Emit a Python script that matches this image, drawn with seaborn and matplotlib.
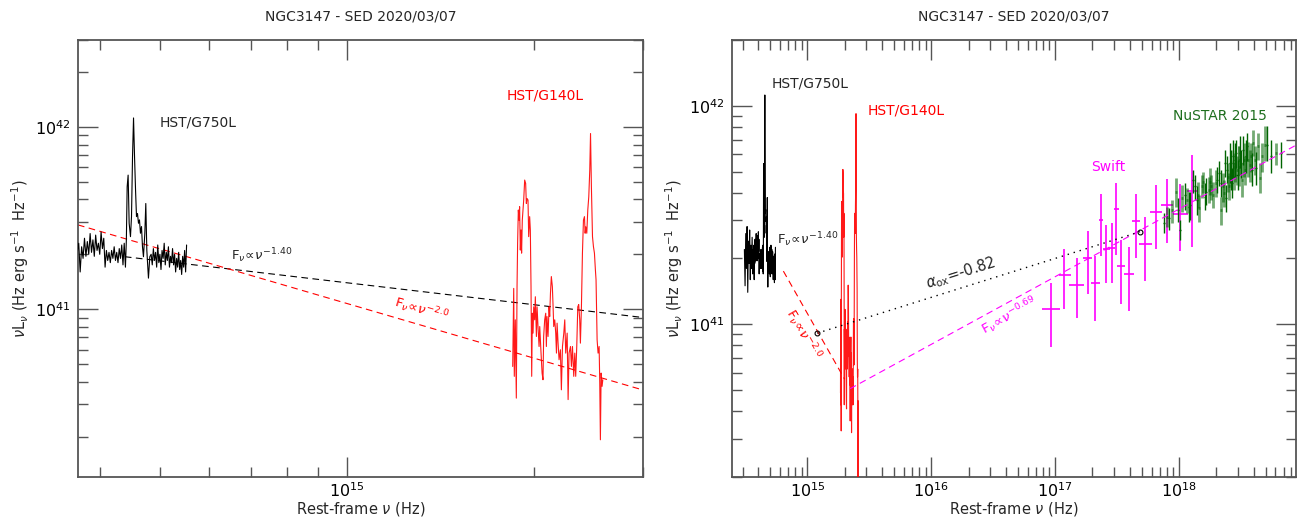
import numpy as np
import matplotlib
matplotlib.use("Agg")
import matplotlib.pyplot as plt
import seaborn as sns
from matplotlib.ticker import LogLocator, NullFormatter

# --- HST/G750L spectrum: nu in 1e14 Hz, nuLnu in 1e41 erg/s ---
g750_nu = [3.10, 3.14, 3.18, 3.22, 3.26, 3.30, 3.34, 3.38, 3.42, 3.46, 3.50, 3.54,
           3.58, 3.62, 3.66,
           3.68, 3.70, 3.72, 3.74, 3.76, 3.78, 3.80, 3.82, 3.84, 3.86, 3.88, 3.90,
           3.92, 3.94, 3.96, 3.98, 4.00, 4.02, 4.04, 4.06, 4.08, 4.10, 4.12, 4.14,
           4.16, 4.18, 4.20, 4.22, 4.24, 4.26, 4.28, 4.30, 4.32, 4.34, 4.36, 4.38,
           4.40, 4.415, 4.428, 4.444, 4.461, 4.483, 4.500, 4.517, 4.534, 4.551, 4.568,
           4.584, 4.601, 4.618, 4.635, 4.652, 4.670, 4.687, 4.704, 4.728, 4.745, 4.763,
           4.780, 4.792, 4.816, 4.84, 4.86, 4.88, 4.90, 4.92, 4.94, 4.96, 4.98, 5.00,
           5.02, 5.04, 5.06, 5.08, 5.10, 5.12, 5.14, 5.16, 5.18, 5.20, 5.22, 5.24,
           5.26, 5.28, 5.30, 5.32, 5.34, 5.36, 5.38, 5.40, 5.42, 5.44, 5.46, 5.48,
           5.50, 5.52]
g750_L = [2.20, 1.50, 2.60, 1.80, 2.80, 1.40, 2.40, 1.90, 2.70, 1.60, 2.30, 1.80,
          2.50, 1.70, 2.20,
          2.05, 2.30, 1.60, 2.20, 1.90, 2.45, 1.95, 2.35, 2.00, 2.60, 2.05, 2.40,
          1.95, 2.55, 2.10, 2.30, 2.00, 2.65, 2.15, 2.45, 1.70, 2.10, 1.85, 2.05,
          1.80, 2.10, 1.90, 2.20, 1.85, 2.05, 1.80, 2.15, 1.90, 2.25, 1.75, 2.30,
          1.70, 2.40, 4.69, 5.44, 2.96, 2.50, 3.22, 6.85, 11.2, 6.85, 4.50,
          3.22, 3.35, 2.96, 3.09, 2.61, 2.84, 2.20, 1.94, 2.61, 3.80, 2.11,
          1.71, 1.48, 1.94, 2.00, 1.75, 2.15, 1.85, 2.05, 1.70, 2.25, 1.80, 2.00,
          1.65, 2.10, 1.90, 2.30, 1.75, 2.05, 1.85, 2.20, 1.70, 1.95, 1.80, 2.15,
          1.75, 2.00, 1.60, 1.90, 1.70, 2.05, 1.65, 1.85, 1.55, 1.95, 1.70, 2.10,
          1.60, 2.25]

# --- HST/G140L spectrum: nu in 1e15 Hz, nuLnu in 1e41 erg/s ---
g140_nu = [1.850, 1.857, 1.861, 1.868, 1.875, 1.880, 1.884, 1.889, 1.894, 1.898,
           1.903, 1.908, 1.912, 1.917, 1.922, 1.927, 1.934, 1.941, 1.946, 1.951,
           1.958, 1.963, 1.970, 1.975, 1.980, 1.985, 1.990, 1.995, 2.000, 2.007,
           2.012, 2.020, 2.025, 2.032, 2.040, 2.045, 2.055, 2.063, 2.070, 2.075,
           2.083, 2.091, 2.096, 2.101, 2.109, 2.117, 2.122, 2.128, 2.135, 2.143,
           2.149, 2.154, 2.162, 2.170, 2.176, 2.181, 2.189, 2.197, 2.208, 2.216,
           2.225, 2.236, 2.244, 2.252, 2.264, 2.272, 2.280, 2.292, 2.300, 2.309,
           2.320, 2.329, 2.337, 2.346, 2.355, 2.363, 2.372, 2.378, 2.387, 2.396,
           2.405, 2.414, 2.420, 2.426, 2.435, 2.444, 2.453, 2.462, 2.469, 2.477,
           2.487, 2.496, 2.505, 2.514, 2.520, 2.530, 2.539, 2.549, 2.555, 2.561,
           2.568, 2.577, 2.584]
g140_L = [0.485, 1.30, 0.428, 0.874, 0.325, 1.33, 2.30, 3.50, 3.08, 3.65,
          2.11, 2.72, 2.03, 3.08, 3.50, 3.97, 5.11, 4.90, 3.80, 4.05,
          3.97, 2.50, 3.22, 2.72, 1.33, 0.428, 0.950, 0.739, 1.03, 0.874,
          1.17, 0.708, 1.03, 0.803, 0.624, 0.803, 0.574, 0.446, 0.410, 0.708,
          0.874, 0.950, 0.624, 0.911, 0.708, 1.03, 0.911, 1.22, 1.51, 1.33,
          1.03, 0.803, 0.874, 0.739, 0.574, 0.838, 0.651, 0.528, 0.599, 0.361,
          0.624, 0.739, 0.874, 0.574, 0.739, 0.319, 0.574, 0.624, 0.485, 0.624,
          0.428, 0.574, 0.428, 0.624, 1.03, 1.06, 0.874, 0.651, 1.03, 2.03,
          3.08, 3.22, 2.61, 2.83, 2.61, 3.50, 4.14, 5.79, 9.20, 4.69,
          2.50, 2.20, 2.03, 1.64, 1.45, 0.679, 0.574, 0.624, 0.393, 0.192,
          0.446, 0.377, 0.410]

# --- Swift points: nu in 1e17 Hz, nuLnu in 1e41 erg/s ---
swift_nu = [0.929, 1.19, 1.51, 1.84, 2.11, 2.35, 2.59, 2.87, 3.12, 3.42, 3.93, 4.53,
            5.35, 6.53, 8.00, 10.2, 12.7]
swift_nu_lo = [0.782, 1.076, 1.303, 1.690, 1.941, 2.249, 2.427, 2.698, 2.985, 3.177,
               3.597, 4.207, 4.732, 5.848, 7.112, 8.995, 11.53]
swift_nu_hi = [1.096, 1.340, 1.722, 2.000, 2.307, 2.455, 2.780, 3.048, 3.258, 3.681,
               4.335, 4.853, 6.026, 7.278, 8.892, 11.89, 13.90]
swift_L = [1.17, 1.68, 1.52, 2.02, 1.54, 3.00, 2.21, 2.23, 3.38, 1.84, 1.70, 2.98,
           2.34, 3.27, 3.51, 3.20, 4.08]
swift_L_lo = [0.787, 1.17, 1.07, 1.37, 1.04, 2.05, 1.55, 1.55, 2.07, 1.24, 1.15, 2.02,
              1.58, 2.22, 2.36, 2.16, 2.26]
swift_L_hi = [1.55, 2.20, 2.00, 2.68, 2.05, 3.94, 2.84, 2.92, 4.45, 2.43, 2.25, 3.94,
              3.09, 4.34, 4.61, 4.39, 5.96]

# --- NuSTAR 2015: nu in 1e18 Hz, nuLnu in 1e41 erg/s, module A / B ---
nustar_nu = [0.757, 0.795, 0.836, 0.878, 0.946, 0.988, 1.019, 1.057, 1.111, 1.153,
             1.227, 1.289, 1.338, 1.389, 1.459, 1.523, 1.571, 1.651, 1.735, 1.801,
             1.892, 1.988, 2.089, 2.168, 2.250, 2.336, 2.394, 2.485, 2.578, 2.643,
             2.709, 2.777, 2.847, 2.918, 3.028, 3.105, 3.222, 3.344, 3.470, 3.602,
             3.738, 3.879, 3.977, 4.178, 4.336, 4.500, 4.670, 4.908, 5.093, 5.556,
             6.058, 6.607,
             1.20, 1.42, 1.61, 1.77, 2.03, 2.20, 2.30, 2.44, 2.53, 2.61, 2.68,
             2.74, 2.81, 2.88, 2.97, 3.06, 3.16, 3.28, 3.41, 3.53, 3.81, 4.08]
nustar_L = [2.90, 3.11, 3.05, 3.33, 4.05, 3.33, 2.70, 3.77, 3.91, 3.71,
            3.52, 4.58, 4.27, 3.71, 3.39, 4.27, 4.50, 4.05, 4.12, 4.27,
            3.91, 4.42, 4.91, 3.33, 4.27, 5.46, 3.77, 4.74, 5.46, 5.09,
            5.86, 4.74, 5.65, 5.09, 5.27, 6.07, 4.58, 5.65, 5.86, 5.65,
            5.36, 5.09, 6.74, 5.18, 6.51, 4.66, 5.86, 6.62, 6.62, 5.86,
            6.07, 6.07,
            3.45, 3.91, 3.84, 4.50, 4.58, 4.42, 3.98, 5.09, 4.27, 4.91, 4.42,
            5.46, 5.27, 6.07, 4.83, 5.65, 5.46, 6.28, 5.09, 6.51, 5.86, 5.65]
nustar_L_lo = [2.61, 2.80, 2.70, 2.90, 3.45, 2.95, 2.43, 3.28, 3.33, 3.22,
               3.00, 3.98, 3.71, 3.16, 2.95, 3.77, 3.98, 3.52, 3.58, 3.71,
               3.39, 3.84, 4.27, 2.85, 3.64, 4.74, 3.28, 4.05, 4.42, 4.12,
               4.74, 4.12, 4.66, 4.34, 4.27, 5.18, 3.84, 4.74, 4.91, 4.74,
               4.50, 4.27, 5.86, 4.34, 5.65, 3.98, 5.00, 5.56, 5.56, 4.91,
               5.36, 5.18,
               2.95, 3.39, 3.33, 3.91, 3.98, 3.84, 3.45, 4.42, 3.71, 4.27, 3.77,
               4.66, 4.50, 5.18, 4.12, 4.83, 4.66, 5.36, 4.34, 5.56, 5.00, 4.83]
nustar_L_hi = [3.22, 3.45, 3.39, 3.71, 4.66, 3.77, 3.00, 4.34, 4.42, 4.19,
               4.05, 5.09, 4.83, 4.27, 3.91, 4.83, 5.00, 4.66, 4.74, 4.83,
               4.50, 5.09, 5.56, 3.84, 4.91, 6.28, 4.34, 5.46, 6.74, 6.28,
               6.98, 5.46, 6.74, 5.86, 6.51, 7.24, 5.46, 6.74, 6.98, 6.86,
               6.28, 6.07, 7.76, 6.17, 7.49, 5.46, 6.74, 8.04, 8.04, 6.98,
               6.74, 6.86,
               4.05, 4.50, 4.42, 5.18, 5.27, 5.09, 4.58, 5.86, 4.91, 5.65, 5.18,
               6.28, 6.07, 6.98, 5.65, 6.51, 6.28, 7.24, 5.86, 7.49, 6.74, 6.51]
nustar_mod = ['A', 'B', 'A', 'B', 'B', 'A', 'A', 'B', 'A', 'B',
              'A', 'A', 'A', 'A', 'B', 'B', 'B', 'A', 'B', 'B',
              'B', 'B', 'A', 'B', 'B', 'A', 'A', 'B', 'A', 'A',
              'A', 'B', 'A', 'B', 'B', 'A', 'B', 'B', 'A', 'B',
              'B', 'A', 'B', 'A', 'B', 'B', 'B', 'B', 'A', 'A',
              'B', 'A',
              'A', 'B', 'A', 'B', 'A', 'A', 'B', 'A', 'B', 'A', 'A',
              'A', 'B', 'A', 'A', 'B', 'A', 'A', 'B', 'A', 'B', 'B']
nustar_dnu = 0.02  # fractional half bin width

# --- power laws (endpoints, Hz and erg/s) ---
pl140_left_nu = [4.39e14, 3.0e15]
pl140_left_L = [1.94e41, 9.0e40]
pl20_left_nu = [3.69e14, 3.0e15]
pl20_left_L = [2.9e41, 3.6e40]
pl20_right_nu = [6.4e14, 2.0e15]
pl20_right_L = [1.75e41, 5.6e40]
pl069_nu = [2.21e15, 8.8e18]
pl069_L = [5.07e40, 6.6e41]
aox_nu = [1.20e15, 4.84e17]
aox_L = [9.1e40, 2.65e41]

RED = '#ff0000'
MAG = '#ff00ff'
GREEN = '#006400'
FRAME = '#555555'

sns.set_style('ticks')
plt.rcParams['font.family'] = ['DejaVu Sans']
plt.rcParams['mathtext.fontset'] = 'dejavusans'

g750_x = np.array(g750_nu) * 1e14
g750_y = np.array(g750_L) * 1e41
g140_x = np.array(g140_nu) * 1e15
g140_y = np.array(g140_L) * 1e41

fig = plt.figure(figsize=(13.02, 5.17), dpi=100)
ax1 = fig.add_axes([0.0599, 0.0774, 0.4340, 0.8453])
ax2 = fig.add_axes([0.5620, 0.0774, 0.4334, 0.8453])


def style_axes(ax, xlim, ylim):
    ax.set_xscale('log')
    ax.set_yscale('log')
    ax.set_xlim(*xlim)
    ax.set_ylim(*ylim)
    for a in (ax.xaxis, ax.yaxis):
        a.set_major_locator(LogLocator(base=10, numticks=30))
        a.set_minor_locator(LogLocator(base=10, subs=np.arange(2, 10), numticks=30))
        a.set_minor_formatter(NullFormatter())
    ax.tick_params(which='both', direction='in', top=True, right=True,
                   color=FRAME, labelsize=11.5, labelcolor='black')
    ax.tick_params(which='major', length=14.5, width=1.0)
    ax.tick_params(which='minor', length=7.5, width=1.0)
    ax.tick_params(axis='y', which='major', pad=5)
    ax.tick_params(axis='x', which='major', pad=3)
    for s in ax.spines.values():
        s.set_color(FRAME)
        s.set_linewidth(1.3)
    ax.set_title('NGC3147 - SED 2020/03/07', fontsize=10, pad=14)
    ax.set_xlabel(r'Rest-frame $\nu$ (Hz)', fontsize=10.5, labelpad=0)
    ax.set_ylabel(r'$\nu\mathrm{L}_\nu$ (Hz erg s$^{-1}$  Hz$^{-1}$)', fontsize=10.5,
                  labelpad=3)


def spectrum(ax, x, y, color, alpha=1.0):
    sns.lineplot(x=x, y=y, ax=ax, color=color, lw=0.8, alpha=alpha,
                 estimator=None, sort=False, zorder=3)


# ---------------- left panel ----------------
ax = ax1
ax.plot(pl140_left_nu, pl140_left_L, color='black', lw=0.8, dashes=(6, 4), zorder=2)
ax.plot(pl20_left_nu, pl20_left_L, color=RED, lw=0.8, dashes=(6, 4), zorder=2)
spectrum(ax, g750_x, g750_y, 'black')
spectrum(ax, g140_x, g140_y, RED, alpha=0.9)
style_axes(ax, (3.69e14, 3.0e15), (1.2e40, 3.0e42))
ax.text(5.0e14, 1.06e42, 'HST/G750L', fontsize=10, ha='left', va='center')
ax.text(1.81e15, 1.48e42, 'HST/G140L', fontsize=10, color=RED, ha='left', va='center')
ax.text(6.5e14, 1.96e41, r'$\mathrm{F}_\nu\!\propto\!\nu^{-1.40}$', fontsize=9.5,
        ha='left', va='center')
ax.text(1.32e15, 9.9e40, r'$\mathrm{F}_\nu\!\propto\!\nu^{-2.0}$', fontsize=9.5,
        color=RED, ha='center', va='center', rotation=-16.4, rotation_mode='anchor')

# ---------------- right panel ----------------
ax = ax2
spectrum(ax, g750_x, g750_y, 'black')
spectrum(ax, g140_x, g140_y, RED, alpha=0.9)

sx = np.array(swift_nu) * 1e17
sy = np.array(swift_L) * 1e41
sxerr = [sx - np.array(swift_nu_lo) * 1e17, np.array(swift_nu_hi) * 1e17 - sx]
syerr = [sy - np.array(swift_L_lo) * 1e41, np.array(swift_L_hi) * 1e41 - sy]
ax.errorbar(sx, sy, xerr=sxerr, yerr=syerr, fmt='none', ecolor=MAG,
            elinewidth=1.2, capsize=0, zorder=3)

nx = np.array(nustar_nu) * 1e18
ny = np.array(nustar_L) * 1e41
nlo = np.array(nustar_L_lo) * 1e41
nhi = np.array(nustar_L_hi) * 1e41
mod = np.array(nustar_mod)
for m, alpha, lw in (('B', 0.55, 2.0), ('A', 1.0, 1.0)):
    k = mod == m
    ax.errorbar(nx[k], ny[k], xerr=nx[k] * nustar_dnu,
                yerr=[ny[k] - nlo[k], nhi[k] - ny[k]], fmt='none',
                ecolor=GREEN, alpha=alpha, elinewidth=lw, capsize=0, zorder=4)

ax.plot(pl20_right_nu, pl20_right_L, color=RED, lw=0.8, dashes=(6, 4), zorder=5)
ax.plot(pl069_nu, pl069_L, color=MAG, lw=0.8, dashes=(6, 4), zorder=5)
ax.plot(aox_nu, aox_L, color='black', lw=1.0, dashes=(1, 3.5), zorder=5)
ax.plot(aox_nu, aox_L, ls='none', marker='o', ms=3.5, mfc='none', mec='black',
        mew=0.8, zorder=6)

style_axes(ax, (2.45e14, 8.8e18), (2.0e40, 2.0e42))
ax.text(5.17e14, 1.27e42, 'HST/G750L', fontsize=10, ha='left', va='center')
ax.text(3.07e15, 9.5e41, 'HST/G140L', fontsize=10, color=RED, ha='left', va='center')
ax.text(5.70e14, 2.43e41, r'$\mathrm{F}_\nu\!\propto\!\nu^{-1.40}$', fontsize=9.5,
        ha='left', va='center')
ax.text(9.2e14, 9.0e40, r'$\mathrm{F}_\nu\!\propto\!\nu^{-2.0}$', fontsize=9.5,
        color=RED, ha='center', va='center', rotation=-60, rotation_mode='anchor')
ax.text(1.74e16, 1.71e41, r'$\alpha_{\rm ox}$=-0.82', fontsize=10.5,
        ha='center', va='center', rotation=17.5, rotation_mode='anchor')
ax.text(4.31e16, 1.09e41, r'$\mathrm{F}_\nu\!\propto\!\nu^{-0.69}$', fontsize=9.5,
        color=MAG, ha='center', va='center', rotation=28.6, rotation_mode='anchor')
ax.text(1.95e17, 5.25e41, 'Swift', fontsize=10, color=MAG, ha='left', va='center')
ax.text(8.96e17, 8.93e41, 'NuSTAR 2015', fontsize=10, color='#1e6e1e',
        ha='left', va='center')

fig.savefig('out.png', dpi=100)
